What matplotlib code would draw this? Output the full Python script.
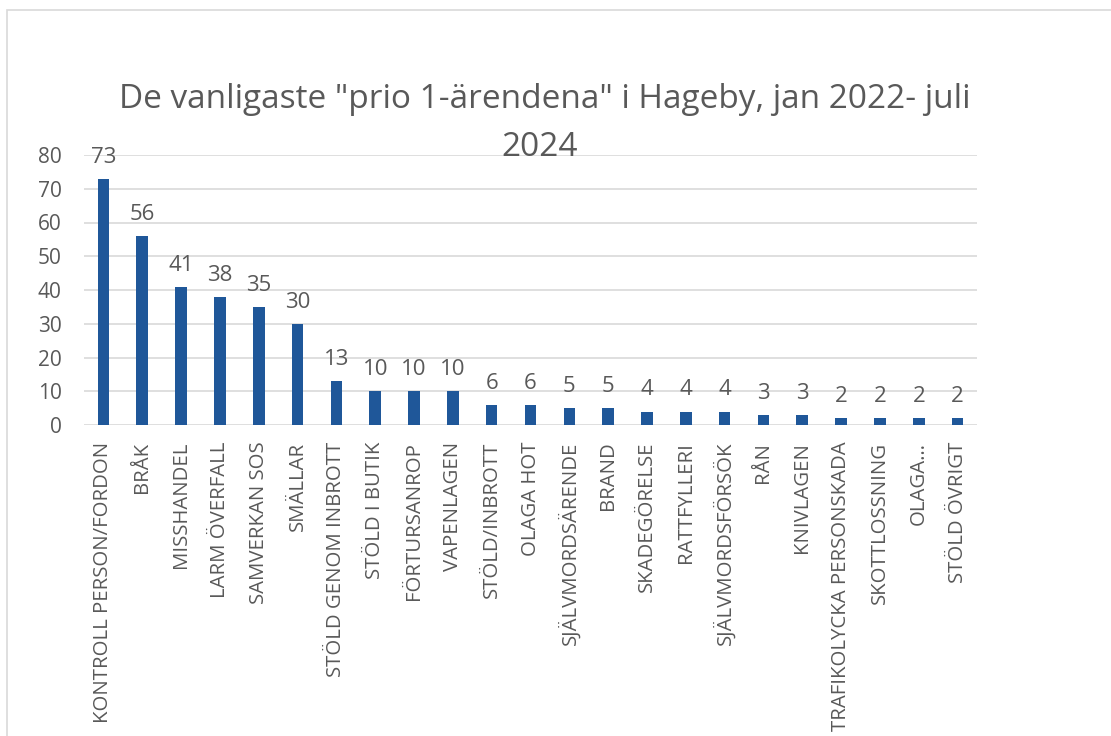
import matplotlib.pyplot as plt
from matplotlib.patches import Rectangle

# data
kategorier = ["KONTROLL PERSON/FORDON", "BRÅK", "MISSHANDEL", "LARM ÖVERFALL",
              "SAMVERKAN SOS", "SMÄLLAR", "STÖLD GENOM INBROTT", "STÖLD I BUTIK",
              "FÖRTURSANROP", "VAPENLAGEN", "STÖLD/INBROTT", "OLAGA HOT",
              "SJÄLVMORDSÄRENDE", "BRAND", "SKADEGÖRELSE", "RATTFYLLERI",
              "SJÄLVMORDSFÖRSÖK", "RÅN", "KNIVLAGEN", "TRAFIKOLYCKA PERSONSKADA",
              "SKOTTLOSSNING", "OLAGA…", "STÖLD ÖVRIGT"]
antal = [73, 56, 41, 38, 35, 30, 13, 10, 10, 10, 6, 6, 5, 5, 4, 4, 4, 3, 3, 2, 2, 2, 2]
yticks = [0, 10, 20, 30, 40, 50, 60, 70, 80]

plt.rcParams['font.family'] = ['Open Sans', 'DejaVu Sans']
gra = '#595959'
bla = '#1F5799'

fig = plt.figure(figsize=(11.11, 7.36), dpi=100, facecolor='white')

# ram runt diagrammet
fig.patches.append(Rectangle((7/1111, -0.1), 1.2, 1.1 - 10/736, transform=fig.transFigure,
                             fill=False, edgecolor='#d9d9d9', linewidth=1.2))

ax = fig.add_axes([84/1111, 1 - 425/736, 893/1111, 270/736])
x = range(len(kategorier))
bars = ax.bar(x, antal, width=0.3, color=bla, zorder=3)

ax.set_xlim(-0.5, len(kategorier) - 0.5)
ax.set_ylim(0, 80)
ax.set_yticks(yticks)
ax.set_yticklabels([str(v) for v in yticks])
ax.set_xticks(list(x))
ax.set_xticklabels(kategorier, rotation=90, ha='center', va='top')

ax.tick_params(axis='y', length=0, pad=16, labelsize=15, labelcolor=gra)
ax.tick_params(axis='x', length=0, pad=12, labelsize=14.7, labelcolor=gra)
ax.grid(axis='y', color='#d9d9d9', linewidth=1.2, zorder=0)
for s in ax.spines.values():
    s.set_visible(False)

# värden ovanför staplarna
for xi, v in zip(x, antal):
    ax.annotate(str(v), (xi, v), xytext=(0, 8), textcoords='offset points',
                ha='center', va='bottom', fontsize=16, color=gra)

fig.text(545/1111, 1 - 100/736, 'De vanligaste "prio 1-ärendena" i Hageby, jan 2022- juli',
         ha='center', va='center', fontsize=24, color=gra)
fig.text(540/1111, 1 - 148/736, '2024', ha='center', va='center', fontsize=24, color=gra)

fig.savefig('out.png', dpi=100, facecolor='white')
